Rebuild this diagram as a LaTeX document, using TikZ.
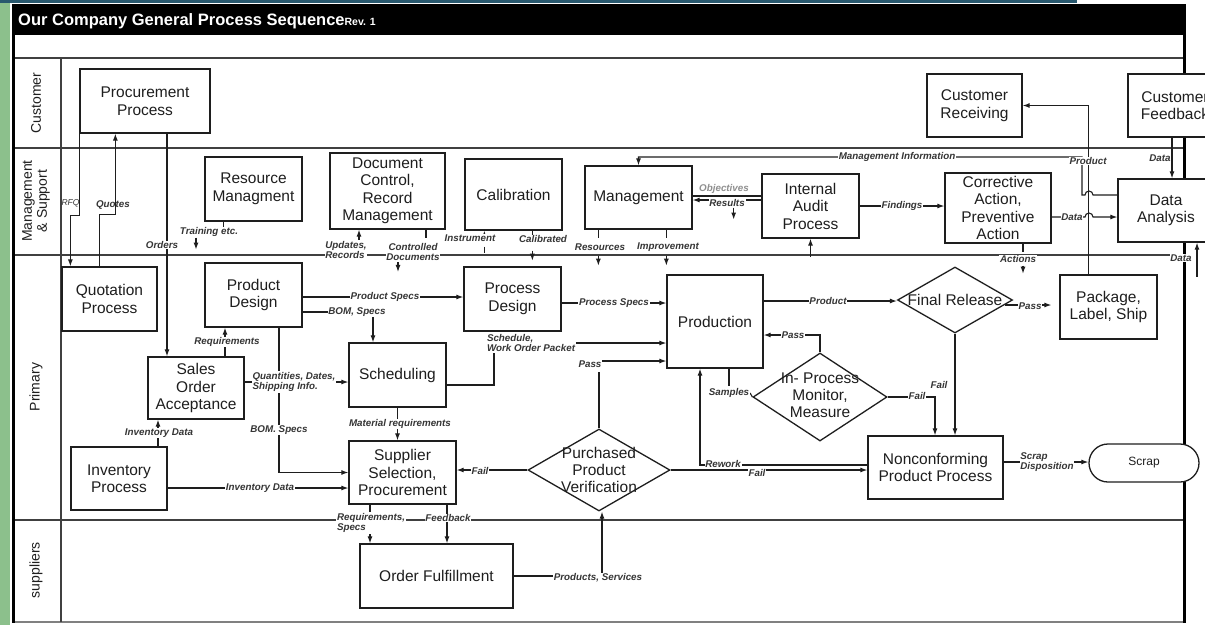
\documentclass[tikz,border=0pt]{standalone}
\usepackage{fontspec}
\setmainfont{Liberation Sans}
\usetikzlibrary{arrows.meta,shapes.geometric,shapes.misc}
\pgfdeclarelayer{bg}
\pgfsetlayers{bg,main}
\definecolor{ln}{RGB}{30,30,30}
\definecolor{grn}{RGB}{140,192,140}
\definecolor{topteal}{RGB}{40,88,110}
\newcommand{\boxfont}{\fontsize{15.5}{17.5}\selectfont}
\newcommand{\lblfont}{\fontsize{9.8}{10.6}\selectfont\bfseries\itshape}
\begin{document}
\begin{tikzpicture}[x=1pt,y=-1pt,
  box/.style={draw=ln, fill=white, line width=1.3pt, align=center, inner sep=1pt, font=\boxfont, text=ln},
  dia/.style={draw=ln, fill=white, line width=1.3pt, shape=diamond, inner sep=0pt},
  dtxt/.style={align=center, font=\boxfont, text=ln, inner sep=0pt},
  lbl/.style={fill=white, inner sep=0.8pt, align=left, font=\lblfont, text=ln!90},
  con/.style={draw=ln, line width=1.1pt},
  arr/.style={con, -{Latex[length=7pt,width=5pt]}},
  lane/.style={draw=ln!85, line width=1.3pt},
  lanetxt/.style={rotate=90, align=center, font=\fontsize{14}{15}\selectfont, text=ln}
]
\useasboundingbox (0,0) rectangle (1205,625);
\clip (0,0) rectangle (1205,625);
\begin{pgfonlayer}{bg}
\fill[white] (0,0) rectangle (1205,625);
\fill[grn] (0,0) rectangle (10,625);
\fill[topteal] (0,0) rectangle (1077,3);
\fill[black] (12,4) rectangle (1186,35);
\draw[lane] (12,58) -- (1185,58);
\draw[lane] (12,148) -- (1185,148);
\draw[lane] (12,255) -- (1185,255);
\draw[lane] (12,520) -- (1185,520);
\draw[draw=gray, line width=1.3pt] (12,622) -- (1185,622);
\draw[lane] (61,58) -- (61,622);
\draw[line width=3pt] (13.5,4) -- (13.5,623);
\draw[line width=3.5pt] (1184.5,4) -- (1184.5,623);
\end{pgfonlayer}

% title
\node[anchor=west, text=white, font=\bfseries\fontsize{16.5}{18}\selectfont, inner sep=0pt] (title) at (18,21)
  {Our Company General Process Sequence{\fontsize{10.5}{12}\selectfont Rev. 1}};

% lane labels
\node[lanetxt] (lc) at (36,103) {Customer};
\node[lanetxt] (lm) at (36,201) {Management\\\& Support};
\node[lanetxt] (lp) at (36,387) {Primary};
\node[lanetxt] (ls) at (36,570) {suppliers};

% boxes
\node[box, minimum width=130, minimum height=64] (proc) at (145,101) {Procurement\\Process};
\node[box, minimum width=97, minimum height=64] (res) at (253.5,189) {Resource\\Managment};
\node[box, minimum width=115, minimum height=76] (doc) at (387.5,191) {Document\\Control,\\Record\\Management};
\node[box, minimum width=97, minimum height=71] (cal) at (513.5,194.5) {Calibration};
\node[box, minimum width=107, minimum height=63] (mgmt) at (638.5,197.5) {Management};
\node[box, minimum width=97, minimum height=64] (audit) at (810.5,206) {Internal\\Audit\\Process};
\node[box, minimum width=106, minimum height=70] (capa) at (998,208) {Corrective\\Action,\\Preventive\\Action};
\node[box, minimum width=95, minimum height=63] (crec) at (974.5,105.5) {Customer\\Receiving};
\node[box, minimum width=94, minimum height=63] (cfb) at (1175,105.5) {Customer\\Feedback};
\node[box, minimum width=96, minimum height=63] (da) at (1166,210.5) {Data\\Analysis};
\node[box, minimum width=95, minimum height=64] (quot) at (109.5,299) {Quotation\\Process};
\node[box, minimum width=97, minimum height=64] (pd) at (253.5,295) {Product\\Design};
\node[box, minimum width=96, minimum height=62] (soa) at (196,388) {Sales\\Order\\Acceptance};
\node[box, minimum width=96, minimum height=63] (inv) at (119,478.5) {Inventory\\Process};
\node[box, minimum width=97, minimum height=64] (prd) at (512.5,299) {Process\\Design};
\node[box, minimum width=97, minimum height=64] (sch) at (397.5,375) {Scheduling};
\node[box, minimum width=107, minimum height=63] (sup) at (402.5,472.5) {Supplier\\Selection,\\Procurement};
\node[box, minimum width=96, minimum height=93] (prod) at (715,321.5) {Production};
\node[box, minimum width=97, minimum height=64] (pkg) at (1108.5,307) {Package,\\Label, Ship};
\node[box, minimum width=135, minimum height=63] (ncp) at (935.5,467.5) {Nonconforming\\Product Process};
\node[box, rounded rectangle, minimum width=112, minimum height=38, font=\fontsize{12}{13}\selectfont] (scrap) at (1144,463) {Scrap};
\node[box, minimum width=153, minimum height=64] (of) at (436.5,576) {Order Fulfillment};

% diamonds
\node[dia, minimum width=115, minimum height=66] (fr) at (955,300) {};
\node[dtxt] (frt) at (fr.center) {Final Release};
\node[dia, minimum width=134, minimum height=88] (ipm) at (820,397) {};
\node[dtxt, font=\fontsize{15.5}{17}\selectfont] (ipmt) at (820,395) {In- Process\\Monitor,\\Measure};
\node[dia, minimum width=142, minimum height=82] (ppv) at (599,470) {};
\node[dtxt, font=\fontsize{15.5}{17}\selectfont] (ppvt) at (599,470) {Purchased\\Product\\Verification};

% labels
\node[lbl, fill=none, font=\fontsize{8.5}{9}\selectfont\itshape] (lrfq) at (70.5,203) {RFQ};
\node[lbl, fill=none] (lquo) at (113,205) {Quotes};
\node[lbl] (lord) at (162,245) {Orders};
\node[lbl] (trn) at (209,232) {Training etc.};
\node[lbl] (upd) at (346,250) {Updates,\\Records};
\node[lbl, align=center] (ctl) at (413,252) {Controlled\\Documents};
\node[lbl] (ins) at (470,238) {Instrument};
\node[lbl] (calb) at (543,239) {Calibrated};
\node[lbl] (lres) at (600,247) {Resources};
\node[lbl] (limp) at (668,247) {Improvement};
\node[lbl, text=ln!50] (lobj) at (724,189) {Objectives};
\node[lbl] (lrsl) at (727,203) {Results};
\node[lbl] (lmi) at (897,157) {Management Information};
\node[lbl] (lfnd) at (902,206) {Findings};
\node[lbl] (ld1) at (1072,217) {Data};
\node[lbl] (lprl) at (1088,161) {Product};
\node[lbl, fill=none] (ld2) at (1160,158) {Data};
\node[lbl] (lact) at (1018,259) {Actions};
\node[lbl] (ld3) at (1181,258) {Data};
\node[lbl] (lps) at (385,297) {Product Specs};
\node[lbl] (lbom1) at (357,312) {BOM, Specs};
\node[lbl] (lreq) at (227,342) {Requirements};
\node[lbl] (lqty) at (294,382) {Quantities, Dates,\\Shipping Info.};
\node[lbl] (lbom2) at (279,430) {BOM. Specs};
\node[lbl] (linv1) at (159,433) {Inventory Data};
\node[lbl] (linv2) at (260,488) {Inventory Data};
\node[lbl] (lmat) at (400,424) {Material requirements};
\node[lbl] (lpsp) at (614,303) {Process Specs};
\node[lbl, anchor=west] (swo) at (486,343) {Schedule,\\Work Order Packet};
\node[lbl] (pass1) at (590,364) {Pass};
\node[lbl] (smp) at (729,393) {Samples};
\node[lbl] (pass2) at (793,335) {Pass};
\node[lbl] (fail1) at (917,396) {Fail};
\node[lbl, fill=none] (fail2) at (939,385) {Fail};
\node[lbl] (lprl2) at (828,301) {Product};
\node[lbl] (pass3) at (1030,306) {Pass};
\node[lbl] (lrwk) at (723,464) {Rework};
\node[lbl] (fail3) at (757,473) {Fail};
\node[lbl] (fail4) at (480,471) {Fail};
\node[lbl] (lscd) at (1047,462) {Scrap\\Disposition};
\node[lbl, anchor=west] (lrqs) at (336,523) {Requirements,\\Specs};
\node[lbl] (lfbk) at (448,518) {Feedback};
\node[lbl] (lpserv) at (598,578) {Products, Services};

% connectors
\begin{pgfonlayer}{bg}
\draw[arr] (proc.south west) -- ++(0,82) -| ([xshift=9pt]quot.north west);
\draw[arr] ([xshift=-10pt]quot.north) -- ++(0,-52) -| ([xshift=36pt]proc.south west);
\draw[arr] ([xshift=22pt]proc.south) -- ([xshift=22pt]proc.south |- soa.north);
\draw[con] ([xshift=19pt]res.south west) -- ++(0,6);
\draw[arr] ([xshift=-13pt]trn.south) -- ++(0,12);
\draw[arr] ([xshift=13pt]upd.north) -- ([xshift=13pt]upd.north |- doc.south);
\draw[con] ([xshift=38.5pt]doc.south) -- ++(0,8);
\draw[arr] ([xshift=-15pt]ctl.south) -- ++(0,10);
\draw[arr] ([xshift=20pt,yshift=-10pt]cal.south west) -- ([xshift=20pt]cal.south west);
\draw[con] ([xshift=20pt,yshift=-16pt]cal.south west) -- ++(0,6);
\draw[con] ([xshift=68pt]cal.south west) -- ++(0,6);
\draw[arr] ([xshift=68pt,yshift=-20pt]cal.south west) -- ++(0,10);
\draw[con] ([xshift=14pt]mgmt.south west) -- ++(0,8);
\draw[con] ([xshift=82pt]mgmt.south west) -- ++(0,8);
\draw[arr] ([xshift=14pt,yshift=-26pt]mgmt.south west) -- ++(0,10);
\draw[arr] ([xshift=82pt,yshift=-26pt]mgmt.south west) -- ++(0,10);
\draw[con] ([yshift=1.5pt]mgmt.east) -- ([yshift=1.5pt]mgmt.east -| audit.west);
\draw[arr] ([yshift=6pt]audit.west) -- ([yshift=6pt]audit.west -| mgmt.east);
\draw[arr] ([xshift=41pt,yshift=-10pt]mgmt.east) -- ++(0,12);
\draw[arr] ([yshift=15.5pt]da.west) -- (1093,195) arc[start angle=0,end angle=180,radius=4pt] -- (1082,195) -- (1082,157) -| (mgmt.north);
\draw[arr] (audit.east) -- (audit.east -| capa.west);
\draw[arr] ([yshift=-9pt]capa.east) -- (1085,217) arc[start angle=180,end angle=0,radius=4pt] -- ([yshift=-9pt]capa.east -| da.west);
\draw[arr] ([xshift=29pt]pkg.north west) |- (crec.east);
\draw[arr] ([xshift=-3pt]cfb.south) -- ([xshift=-3pt]cfb.south |- da.north);
\draw[con] ([xshift=25pt]capa.south) -- ++(0,8);
\draw[arr] ([xshift=25pt,yshift=-22pt]capa.south) -- ++(0,8);
\draw[arr] ([xshift=31pt,yshift=-34pt]da.south) -- ([xshift=31pt]da.south);
\draw[arr] ([yshift=-18pt]audit.south) -- (audit.south);
\draw[arr] ([yshift=-2pt]pd.east) -- ([yshift=-2pt]pd.east -| prd.west);
\draw[arr] ([yshift=-17pt]pd.east) -| ([xshift=-24.5pt]sch.north);
\draw[arr] ([xshift=29pt]soa.north) -- ([xshift=29pt]soa.north |- pd.south);
\draw[arr] ([yshift=6pt]soa.east) -- ([yshift=6pt]soa.east -| sch.west);
\draw[arr] ([xshift=25.5pt]pd.south) |- (sup.west);
\draw[arr] ([xshift=39pt]inv.north) -- ([xshift=39pt]inv.north |- soa.south);
\draw[arr] ([yshift=-9.5pt]inv.east) -- ([yshift=-9.5pt]inv.east -| sup.west);
\draw[arr] (sch.south) -- (sch.south |- sup.north);
\draw[arr] ([yshift=-4pt]prd.east) -- ([yshift=-4pt]prd.east -| prod.west);
\draw[con] ([yshift=-10pt]sch.east) -| ([xshift=8pt]swo.south west);
\draw[arr] (swo.east) -- (swo.east -| prod.west);
\draw[con] (ppv.north) -- ++(0,-56);
\draw[arr] ([yshift=3pt]pass1.east) -- ([yshift=3pt]pass1.east -| prod.west);
\draw[con] ([xshift=14pt]prod.south) -- ++(0,17);
\draw[con] (smp.east) -- (ipm.west);
\draw[arr] (ipm.north) |- ([yshift=-13.5pt]prod.east);
\draw[arr] (ipm.east) -| ([xshift=-0.5pt]ncp.north);
\draw[arr] (fr.south) -- (fr.south |- ncp.north);
\draw[arr] ([yshift=20.5pt]prod.east) -- ([yshift=20.5pt]prod.east -| fr.west);
\draw[arr] ([xshift=-8pt,yshift=-5pt]fr.east) -- ([xshift=-8pt,yshift=-5pt]fr.east -| pkg.west);
\draw[arr] ([yshift=2.5pt]ncp.west) -| ([xshift=-15pt]prod.south);
\draw[arr] (ppv.east) -- (ppv.east -| ncp.west);
\draw[arr] (ppv.west) -- (ppv.west -| sup.east);
\draw[arr] ([yshift=5.5pt]ncp.east) -- ([yshift=5.5pt]ncp.east -| scrap.west);
\draw[arr] ([xshift=-32.5pt]sup.south) -- ([xshift=-32.5pt]sup.south |- of.north);
\draw[arr] ([xshift=44.5pt]sup.south) -- ([xshift=44.5pt]sup.south |- of.north);
\draw[arr] (of.east) -| ([xshift=3pt]ppv.south);
\end{pgfonlayer}
\end{tikzpicture}
\end{document}
